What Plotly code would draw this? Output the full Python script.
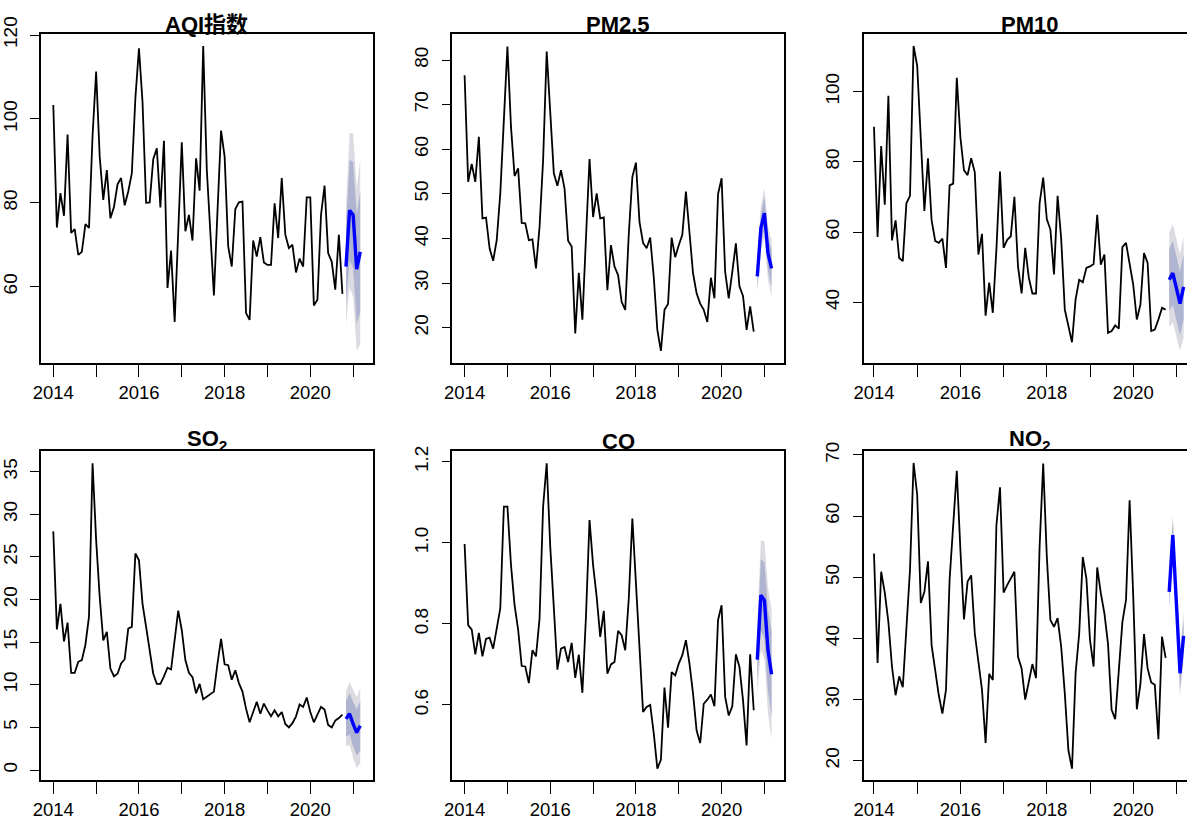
import plotly.graph_objects as go

W, H = 1187, 822

# ---------------- data (monthly, Jan 2014 - Oct 2020 observed; Nov 2020 - Mar 2021 forecast) --------------
aqi_obs = [103.3, 74.1, 82.3, 76.9, 96.3, 72.8, 73.7, 67.6, 68.3, 74.9, 74.0, 96.0,
           111.3, 91.0, 80.7, 87.8, 76.3, 79.0, 84.4, 85.9, 79.4, 82.7, 87.0, 105.0,
           116.8, 104.0, 80.0, 80.1, 90.4, 93.0, 78.9, 94.8, 59.7, 68.6, 51.6, 71.0,
           94.4, 73.2, 77.1, 71.0, 90.6, 82.9, 117.4, 88.0, 72.0, 57.9, 78.0, 97.2,
           91.0, 69.6, 64.8, 78.5, 80.1, 80.3, 53.7, 52.1, 71.0, 67.2, 71.8, 65.8,
           65.2, 65.2, 79.9, 71.6, 85.9, 72.4, 69.2, 70.0, 63.4, 66.7, 64.8, 81.3,
           81.3, 55.5, 56.9, 77.1, 84.1, 68.0, 66.0, 59.3, 72.4, 58.3]
aqi_mean = [64.8, 78.2, 77.1, 64.2, 68.3]
aqi_lo80 = [55.8, 66.2, 64.4, 51.2, 53.9]
aqi_hi80 = [73.8, 90.2, 89.8, 77.2, 82.7]
aqi_lo95 = [50.8, 59.8, 57.6, 44.7, 46.3]
aqi_hi95 = [78.8, 96.6, 96.6, 83.7, 90.3]

pm25_obs = [76.6, 52.7, 56.7, 52.7, 62.8, 44.5, 44.7, 37.8, 35.0, 39.6, 50.1, 65.0,
            83.0, 65.0, 54.0, 55.7, 43.5, 43.4, 39.6, 39.8, 33.3, 42.6, 57.6, 81.9,
            68.8, 54.6, 51.8, 55.3, 51.2, 39.5, 38.2, 18.7, 32.3, 21.8, 40.0, 57.8,
            44.8, 50.1, 44.5, 44.7, 28.4, 38.5, 33.7, 31.8, 25.8, 24.0, 41.0, 53.8,
            57.0, 43.7, 39.0, 37.8, 40.2, 31.3, 19.5, 14.8, 24.0, 25.3, 40.2, 35.8,
            38.5, 40.8, 50.5, 41.1, 32.2, 27.7, 25.4, 24.0, 21.3, 31.2, 26.6, 49.9,
            53.5, 32.5, 26.6, 32.5, 38.9, 29.3, 27.1, 19.5, 24.8, 19.1]
pm25_mean = [31.5, 42.3, 45.7, 36.7, 33.3]
pm25_lo80 = [29.0, 39.1, 42.1, 32.8, 29.2]
pm25_hi80 = [34.0, 45.5, 49.3, 40.6, 37.4]
pm25_lo95 = [27.7, 37.3, 40.1, 30.7, 27.0]
pm25_hi95 = [35.3, 47.3, 51.3, 42.7, 39.6]

pm10_obs = [90.0, 58.6, 84.5, 67.8, 98.8, 57.6, 63.3, 52.6, 51.7, 68.2, 70.3, 113.0,
            107.3, 87.0, 66.0, 81.0, 63.4, 57.5, 56.9, 58.1, 49.8, 73.3, 73.8, 103.9,
            87.0, 77.6, 76.2, 81.0, 77.0, 53.6, 59.5, 36.2, 45.6, 37.0, 55.0, 77.2,
            55.5, 57.8, 58.8, 70.0, 50.2, 42.5, 55.5, 47.0, 42.5, 42.5, 68.2, 75.5,
            63.7, 60.7, 47.9, 70.3, 58.0, 37.9, 33.3, 28.6, 40.8, 46.4, 45.7, 49.8,
            50.2, 50.9, 64.9, 50.7, 53.6, 31.3, 31.8, 33.4, 32.5, 55.7, 56.9, 51.2,
            45.0, 35.1, 39.3, 54.0, 51.2, 31.8, 32.2, 35.1, 38.4, 37.9]
pm10_mean = [46.4, 48.3, 44.0, 39.6, 44.4]
pm10_lo80 = [37.6, 39.2, 34.9, 30.5, 35.0]
pm10_hi80 = [55.2, 57.4, 53.1, 48.7, 53.8]
pm10_lo95 = [32.9, 34.3, 30.0, 26.2, 29.9]
pm10_hi95 = [59.9, 62.3, 58.0, 53.6, 58.9]

so2_obs = [28.0, 16.5, 19.5, 15.1, 17.3, 11.4, 11.4, 12.7, 12.9, 14.7, 18.0, 36.0,
           27.0, 20.3, 15.2, 16.2, 11.9, 11.0, 11.3, 12.5, 13.0, 16.6, 16.8, 25.4,
           24.6, 19.5, 16.8, 14.1, 11.3, 10.1, 10.1, 11.0, 12.0, 11.8, 15.3, 18.7,
           16.4, 12.9, 11.4, 10.9, 9.0, 10.1, 8.3, 8.6, 9.0, 9.2, 12.5, 15.4,
           12.4, 12.3, 10.6, 11.7, 10.2, 9.2, 7.2, 5.6, 6.8, 8.0, 6.6, 7.8,
           7.0, 6.3, 7.0, 6.3, 6.8, 5.4, 5.0, 5.5, 6.3, 7.7, 7.4, 8.5,
           6.8, 5.6, 6.5, 7.4, 7.1, 5.3, 5.0, 5.8, 6.1, 6.5]
so2_mean = [6.0, 6.6, 5.4, 4.4, 5.2]
so2_lo80 = [3.9, 4.2, 2.8, 1.7, 2.3]
so2_hi80 = [8.1, 9.0, 8.0, 7.1, 8.1]
so2_lo95 = [2.8, 2.9, 1.4, 0.25, 0.8]
so2_hi95 = [9.2, 10.3, 9.4, 8.55, 9.6]

co_obs = [0.997, 0.797, 0.786, 0.725, 0.778, 0.720, 0.763, 0.766, 0.739, 0.784, 0.838, 1.089,
          1.089, 0.945, 0.846, 0.786, 0.696, 0.695, 0.654, 0.735, 0.720, 0.813, 1.090, 1.196,
          0.990, 0.840, 0.687, 0.739, 0.743, 0.706, 0.753, 0.667, 0.724, 0.630, 0.817, 1.056,
          0.945, 0.867, 0.768, 0.832, 0.677, 0.700, 0.706, 0.783, 0.772, 0.735, 0.863, 1.060,
          0.908, 0.750, 0.583, 0.595, 0.600, 0.530, 0.443, 0.465, 0.643, 0.544, 0.681, 0.673,
          0.702, 0.723, 0.760, 0.702, 0.628, 0.537, 0.506, 0.603, 0.613, 0.626, 0.597, 0.809,
          0.846, 0.620, 0.574, 0.597, 0.725, 0.694, 0.612, 0.500, 0.725, 0.587]
co_mean = [0.712, 0.871, 0.858, 0.735, 0.676]
co_lo80 = [0.657, 0.783, 0.764, 0.635, 0.572]
co_hi80 = [0.767, 0.959, 0.952, 0.835, 0.780]
co_lo95 = [0.627, 0.736, 0.713, 0.580, 0.516]
co_hi95 = [0.797, 1.006, 1.003, 0.890, 0.836]

no2_obs = [53.9, 36.0, 50.9, 47.5, 42.7, 35.4, 30.7, 33.8, 32.0, 41.9, 51.2, 68.7,
           63.5, 45.8, 47.6, 52.6, 38.9, 34.8, 30.7, 27.7, 31.6, 49.6, 58.3, 67.4,
           54.5, 43.1, 49.3, 50.3, 40.8, 35.9, 31.6, 22.9, 34.2, 33.2, 58.5, 64.7,
           47.5, 48.7, 49.8, 50.9, 37.0, 35.1, 30.0, 32.9, 35.8, 33.5, 55.0, 68.6,
           53.4, 43.0, 41.9, 43.3, 38.6, 31.0, 21.7, 18.7, 34.3, 40.8, 53.3, 49.8,
           39.7, 35.4, 51.6, 47.4, 44.1, 39.1, 28.3, 26.8, 34.0, 42.7, 46.3, 62.6,
           47.0, 28.4, 32.5, 40.7, 35.1, 32.8, 32.4, 23.5, 40.3, 36.8]
no2_mean = [47.6, 56.9, 45.7, 34.3, 40.4]
no2_lo80 = [45.6, 54.7, 43.4, 31.8, 37.8]
no2_hi80 = [49.6, 59.1, 48.0, 36.8, 43.0]
no2_lo95 = [44.6, 53.5, 42.1, 30.5, 36.4]
no2_hi95 = [50.6, 60.3, 49.3, 38.1, 44.4]

titles = ["AQI指数", "PM2.5", "PM10", "SO<sub>2</sub>", "CO", "NO<sub>2</sub>"]
year_major = [2014, 2016, 2018, 2020]
year_major_text = ["2014", "2016", "2018", "2020"]
year_minor = [2015, 2017, 2019, 2021]

y_ticks = [
    ([60, 80, 100, 120], ["60", "80", "100", "120"]),
    ([20, 30, 40, 50, 60, 70, 80], ["20", "30", "40", "50", "60", "70", "80"]),
    ([40, 60, 80, 100], ["40", "60", "80", "100"]),
    ([0, 5, 10, 15, 20, 25, 30, 35], ["0", "5", "10", "15", "20", "25", "30", "35"]),
    ([0.6, 0.8, 1.0, 1.2], ["0.6", "0.8", "1.0", "1.2"]),
    ([20, 30, 40, 50, 60, 70], ["20", "30", "40", "50", "60", "70"]),
]

series = [
    (aqi_obs, aqi_mean, aqi_lo80, aqi_hi80, aqi_lo95, aqi_hi95),
    (pm25_obs, pm25_mean, pm25_lo80, pm25_hi80, pm25_lo95, pm25_hi95),
    (pm10_obs, pm10_mean, pm10_lo80, pm10_hi80, pm10_lo95, pm10_hi95),
    (so2_obs, so2_mean, so2_lo80, so2_hi80, so2_lo95, so2_hi95),
    (co_obs, co_mean, co_lo80, co_hi80, co_lo95, co_hi95),
    (no2_obs, no2_mean, no2_lo80, no2_hi80, no2_lo95, no2_hi95),
]

# ---------------- layout geometry (pixels) ----------------
col_px = [(41, 372.7), (452.3, 784), (863.7, 1187)]
row_px = [(34, 363), (451, 780)]
x_ranges = [[2013.713, 2021.457], [2013.713, 2021.457], [2013.762, 2021.245]]
y_ranges = [[41.81, 120.24], [12.09, 85.83], [22.7, 116.4],
            [-1.17, 37.43], [0.415, 1.2264], [16.84, 70.65]]

OUTER = "#DBDBE1"
INNER = "#AFB4D0"
FONT = "Liberation Sans, Arial, Noto Sans CJK SC, sans-serif"

fig = go.Figure()
layout = dict(template="none", width=W, height=H, margin=dict(l=0, r=0, t=0, b=0, pad=0),
              paper_bgcolor="white", plot_bgcolor="white", showlegend=False,
              annotations=[])

t_obs = [2014 + i / 12 for i in range(len(aqi_obs))]
t_fc = [2014 + (len(aqi_obs) + i) / 12 for i in range(len(aqi_mean))]

for k in range(6):
    r, c = divmod(k, 3)
    ax = "" if k == 0 else str(k + 1)
    xref, yref = "x" + ax, "y" + ax
    obs, mean, lo80, hi80, lo95, hi95 = series[k]

    fig.add_trace(go.Scatter(x=t_fc + t_fc[::-1], y=hi95 + lo95[::-1], fill="toself",
                             fillcolor=OUTER, line=dict(width=0), mode="lines",
                             xaxis=xref, yaxis=yref, hoverinfo="skip"))
    fig.add_trace(go.Scatter(x=t_fc + t_fc[::-1], y=hi80 + lo80[::-1], fill="toself",
                             fillcolor=INNER, line=dict(width=0), mode="lines",
                             xaxis=xref, yaxis=yref, hoverinfo="skip"))
    fig.add_trace(go.Scatter(x=t_obs, y=obs, mode="lines",
                             line=dict(color="black", width=1.8),
                             xaxis=xref, yaxis=yref))
    fig.add_trace(go.Scatter(x=t_fc, y=mean, mode="lines",
                             line=dict(color="#0000FF", width=3.4),
                             xaxis=xref, yaxis=yref))

    x0, x1 = col_px[c]
    ytop, ybot = row_px[r]
    xd = [x0 / W, min(x1 / W, 1.0)]
    yd = [1 - ybot / H, 1 - ytop / H]

    layout["xaxis" + ax] = dict(
        domain=xd, anchor=yref, range=x_ranges[c], automargin=False,
        tickmode="array", tickvals=year_major, ticktext=year_major_text,
        ticks="outside", ticklen=12, tickwidth=1.4, tickcolor="black",
        minor=dict(tickvals=year_minor, ticks="outside", ticklen=12, tickwidth=1.4,
                   tickcolor="black", showgrid=False),
        showline=True, linecolor="black", linewidth=1.5, mirror=True,
        showgrid=False, zeroline=False,
        tickfont=dict(family=FONT, size=18.5, color="black"),
        ticklabelstandoff=0,
    )
    layout["yaxis" + ax] = dict(
        domain=yd, anchor=xref, range=y_ranges[k], automargin=False,
        tickmode="array", tickvals=y_ticks[k][0], ticktext=y_ticks[k][1],
        ticks="outside", ticklen=9, tickwidth=1.4, tickcolor="black",
        showline=True, linecolor="black", linewidth=1.5, mirror=(c < 2),
        showgrid=False, zeroline=False, tickangle=-90,
        tickfont=dict(family=FONT, size=19, color="black"),
        ticklabelstandoff=6,
    )
    layout["annotations"].append(dict(
        text="<b>" + titles[k] + "</b>", xref="paper", yref="paper",
        x=(x0 + x1 if c < 2 else x0 + 1195.4) / 2 / W, y=yd[1],
        xanchor="center", yanchor="bottom", yshift=-5, showarrow=False,
        font=dict(family=FONT, size=22, color="black"),
    ))

fig.update_layout(**layout)
fig.write_html("out.html")
